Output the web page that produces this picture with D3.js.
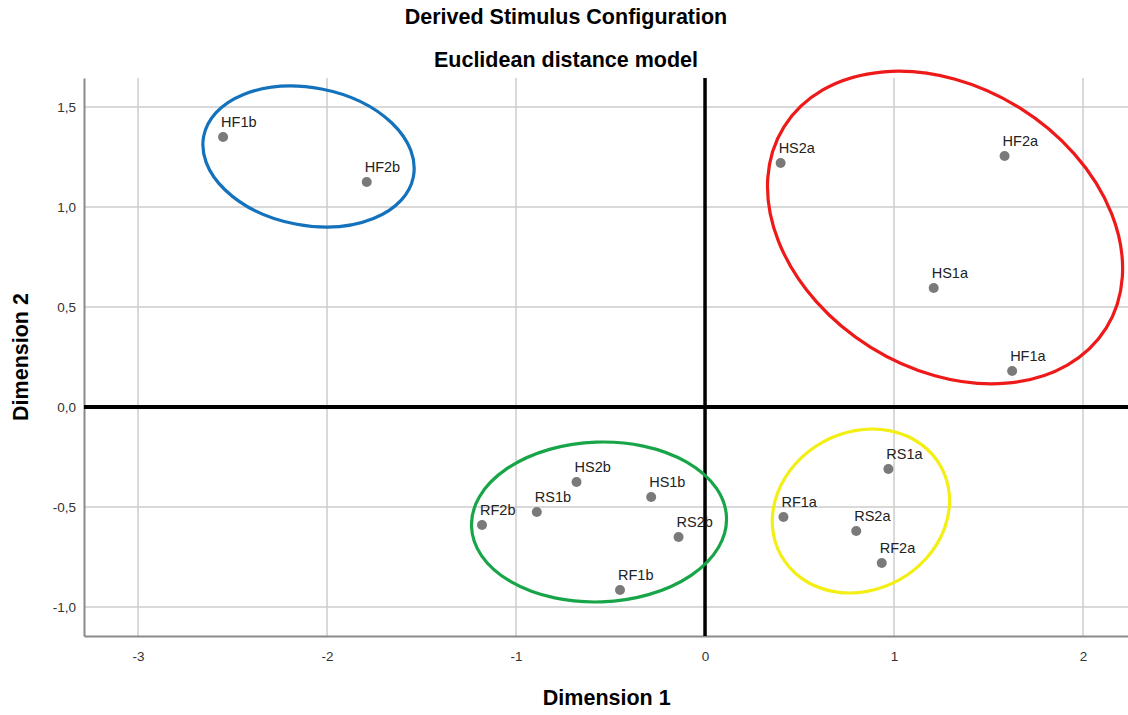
<!DOCTYPE html>
<html>
<head>
<meta charset="utf-8">
<script src="https://cdn.jsdelivr.net/npm/d3@7"></script>
<style>
  body { margin: 0; background: #fff; }
  text { font-family: "Liberation Sans", Arial, sans-serif; }
</style>
</head>
<body>
<script>
// stimulus labels and coordinates (dimension 1, dimension 2)
var stimuli = ["HF1b", "HF2b", "HS2a", "HF2a", "HS1a", "HF1a", "RS1a", "RF1a", "RS2a", "RF2a",
               "HS2b", "RS1b", "RF2b", "HS1b", "RS2b", "RF1b"];
var dim1 = [-2.55, -1.79, 0.40, 1.585, 1.21, 1.625, 0.97, 0.415, 0.80, 0.935,
            -0.68, -0.89, -1.18, -0.285, -0.14, -0.45];
var dim2 = [1.35, 1.125, 1.22, 1.255, 0.595, 0.18, -0.31, -0.55, -0.62, -0.78,
            -0.375, -0.525, -0.59, -0.45, -0.65, -0.915];

var xTicks = [-3, -2, -1, 0, 1, 2];
var yTicks = [-1.0, -0.5, 0.0, 0.5, 1.0, 1.5];

// cluster ellipses: centre in data units, radii in dimension-1 units, rotation in degrees
var clusterColors = ["#1372bb", "#ee1a1a", "#18a548", "#f3ef14"];
var clusterCx = [-2.098, 1.27, -0.561, 0.825];
var clusterCy = [1.2525, 0.8975, -0.575, -0.52];
var clusterRx = [0.565, 1.005, 0.675, 0.484];
var clusterRy = [0.364, 0.746, 0.423, 0.417];
var clusterRot = [10.9, 32, -2, -29];

var W = 1128, H = 715;
var margin = {top: 78, right: 0, bottom: 79, left: 84};

var svg = d3.select("body").append("svg")
    .attr("width", W)
    .attr("height", H);

var x = d3.scaleLinear()
    .domain([-3.286, 2.238])
    .range([margin.left, W - margin.right]);

var y = d3.scaleLinear()
    .domain([-1.145, 1.645])
    .range([H - margin.bottom, margin.top]);

// SPSS style: plain hyphen, comma decimal
var fmt = function(d){ return d.toFixed(1).replace(".", ","); };

// gridlines
svg.append("g")
    .selectAll("line")
    .data(xTicks)
    .join("line")
    .attr("x1", d => x(d)).attr("x2", d => x(d))
    .attr("y1", y.range()[1]).attr("y2", y.range()[0])
    .attr("stroke", "#cdcdcd")
    .attr("stroke-width", 1.5);

svg.append("g")
    .selectAll("line")
    .data(yTicks)
    .join("line")
    .attr("x1", x.range()[0]).attr("x2", x.range()[1])
    .attr("y1", d => y(d)).attr("y2", d => y(d))
    .attr("stroke", "#cdcdcd")
    .attr("stroke-width", 1.5);

// axes
var xAxis = svg.append("g")
    .attr("transform", "translate(0," + (H - margin.bottom) + ")")
    .call(d3.axisBottom(x).tickValues(xTicks).tickSize(0).tickPadding(15).tickFormat(d => String(d)));

var yAxis = svg.append("g")
    .attr("transform", "translate(" + margin.left + ",0)")
    .call(d3.axisLeft(y).tickValues(yTicks).tickSize(0).tickPadding(8).tickFormat(fmt));

[xAxis, yAxis].forEach(function(a){
    a.select(".domain").attr("stroke", "#8a8a8a").attr("stroke-width", 2);
    a.selectAll("text").attr("fill", "#333").style("font-size", "13.5px");
});

// zero lines
svg.append("line")
    .attr("x1", x.range()[0]).attr("x2", x.range()[1])
    .attr("y1", y(0)).attr("y2", y(0))
    .attr("stroke", "#000").attr("stroke-width", 4);
svg.append("line")
    .attr("x1", x(0)).attr("x2", x(0))
    .attr("y1", y.range()[1]).attr("y2", y.range()[0])
    .attr("stroke", "#000").attr("stroke-width", 3.5);

// points
var pts = stimuli.map(function(s, i){ return {name: s, d1: dim1[i], d2: dim2[i]}; });

svg.append("g")
    .selectAll("circle")
    .data(pts)
    .join("circle")
    .attr("cx", d => x(d.d1))
    .attr("cy", d => y(d.d2))
    .attr("r", 5)
    .attr("fill", "#7a7a7a");

svg.append("g")
    .selectAll("text")
    .data(pts)
    .join("text")
    .attr("x", d => x(d.d1) - 2)
    .attr("y", d => y(d.d2) - 10)
    .text(d => d.name)
    .attr("fill", "#222")
    .style("font-size", "14.5px");

// cluster ellipses
var unit = x(1) - x(0);
var clusters = clusterColors.map(function(c, i){
    return {color: c, cx: clusterCx[i], cy: clusterCy[i], rx: clusterRx[i], ry: clusterRy[i], rot: clusterRot[i]};
});

svg.append("g")
    .selectAll("ellipse")
    .data(clusters)
    .join("ellipse")
    .attr("transform", d => "translate(" + x(d.cx) + "," + y(d.cy) + ") rotate(" + d.rot + ")")
    .attr("rx", d => d.rx * unit)
    .attr("ry", d => d.ry * unit)
    .attr("fill", "none")
    .attr("stroke", d => d.color)
    .attr("stroke-width", 3.2);

// titles
svg.append("text")
    .attr("x", 566).attr("y", 24)
    .attr("text-anchor", "middle")
    .style("font-size", "21.5px").style("font-weight", "bold")
    .text("Derived Stimulus Configuration");

svg.append("text")
    .attr("x", 566).attr("y", 67)
    .attr("text-anchor", "middle")
    .style("font-size", "21.5px").style("font-weight", "bold")
    .text("Euclidean distance model");

svg.append("text")
    .attr("x", x(-0.52)).attr("y", 705)
    .attr("text-anchor", "middle")
    .style("font-size", "21.5px").style("font-weight", "bold")
    .text("Dimension 1");

svg.append("text")
    .attr("transform", "translate(28," + y(0.25) + ") rotate(-90)")
    .attr("text-anchor", "middle")
    .style("font-size", "21.5px").style("font-weight", "bold")
    .text("Dimension 2");
</script>
</body>
</html>
